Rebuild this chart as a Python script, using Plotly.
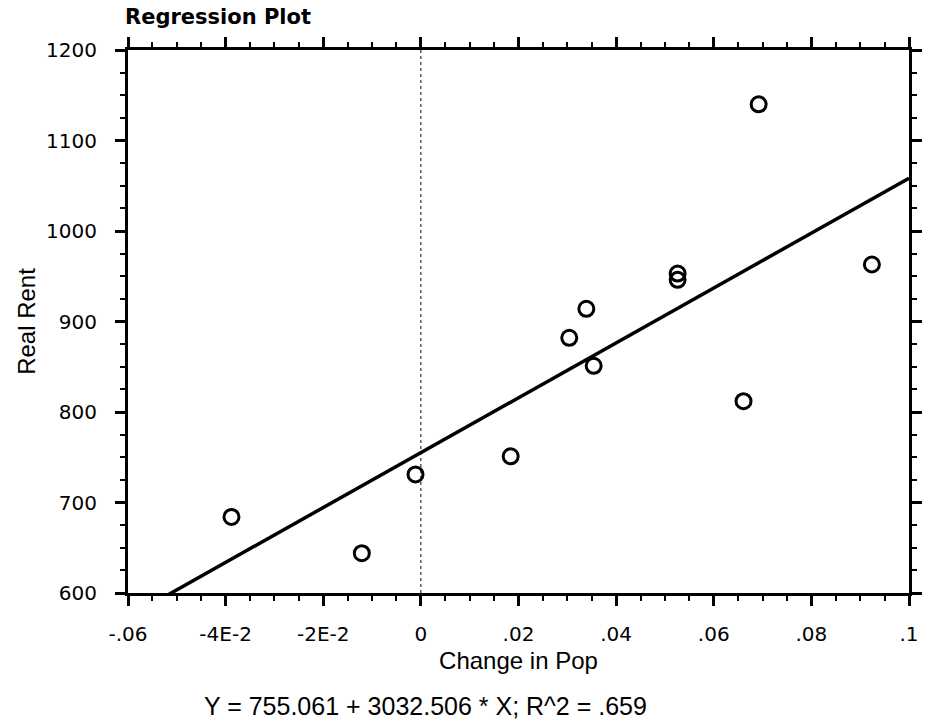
import plotly.graph_objects as go

# ---- data ----
change_in_pop = [-0.0388, -0.0121, -0.0011, 0.0184, 0.0304, 0.0339,
                 0.0354, 0.0526, 0.0526, 0.0692, 0.0661, 0.0924]
real_rent = [684, 644, 731, 751, 882, 914, 851, 953, 946, 1140, 812, 963]

intercept = 755.061
slope = 3032.506
r_squared_text = ".659"

x_range = [-0.06, 0.1]
y_range = [600, 1200]
x_tickvals = [-0.06, -0.04, -0.02, 0, 0.02, 0.04, 0.06, 0.08, 0.1]
x_ticktext = ["-.06", "-4E-2", "-2E-2", "0", ".02", ".04", ".06", ".08", ".1"]
y_tickvals = [600, 700, 800, 900, 1000, 1100, 1200]
y_ticktext = ["600", "700", "800", "900", "1000", "1100", "1200"]

# regression line evaluated at the axis ends (clipped by the plot area)
fit_x = list(x_range)
fit_y = [intercept + slope * v for v in fit_x]

W, H = 934, 723
ML, MR, MT, MB = 128, 14, 50, 130

fig = go.Figure()
fig.add_trace(go.Scatter(
    x=fit_x, y=fit_y, mode="lines",
    line=dict(color="black", width=3.5),
    showlegend=False, hoverinfo="skip"))
fig.add_trace(go.Scatter(
    x=change_in_pop, y=real_rent, mode="markers",
    marker=dict(symbol="circle-open", size=15, color="black",
                line=dict(color="black", width=3)),
    showlegend=False))

# dotted vertical reference line at x = 0
fig.add_shape(type="line", xref="x", yref="y", x0=0, x1=0,
              y0=y_range[0], y1=y_range[1],
              line=dict(color="black", width=1, dash="dot"), layer="below")

tick_font = dict(family="DejaVu Sans", size=20, color="black")
title_font = dict(family="Liberation Sans, Arial", size=24, color="black")

fig.update_xaxes(
    range=x_range, tickvals=x_tickvals, ticktext=x_ticktext,
    showgrid=False, zeroline=False,
    showline=True, linecolor="black", linewidth=3, mirror="ticks",
    ticks="outside", ticklen=10, tickwidth=2.5, tickcolor="black",
    minor=dict(dtick=0.005, ticks="outside", ticklen=5, tickwidth=2,
               tickcolor="black", showgrid=False),
    tickfont=tick_font, ticklabelstandoff=11,
    title=dict(text="Change in Pop", font=title_font, standoff=8))
fig.update_yaxes(
    range=y_range, tickvals=y_tickvals, ticktext=y_ticktext,
    showgrid=False, zeroline=False,
    showline=True, linecolor="black", linewidth=3, mirror="ticks",
    ticks="outside", ticklen=10, tickwidth=2.5, tickcolor="black",
    minor=dict(dtick=25, ticks="outside", ticklen=5, tickwidth=2,
               tickcolor="black", showgrid=False),
    tickfont=tick_font, ticklabelstandoff=14,
    title=dict(text="Real Rent", font=title_font, standoff=4))

eq_text = f"Y = {intercept} + {slope} * X; R^2 = {r_squared_text}"
plot_w = W - ML - MR
plot_h = H - MT - MB
fig.add_annotation(
    text=eq_text, xref="paper", yref="paper",
    x=(430 - ML) / plot_w, y=(H - MB - 706) / plot_h,
    xanchor="center", yanchor="middle", showarrow=False,
    font=dict(family="Liberation Sans, Arial", size=25, color="black"))

fig.update_layout(
    width=W, height=H,
    margin=dict(l=ML, r=MR, t=MT, b=MB, pad=0),
    paper_bgcolor="white", plot_bgcolor="white",
    title=dict(text="<b>Regression Plot</b>", xref="container", yref="container",
               x=125 / W, y=1 - 17 / H, xanchor="left", yanchor="middle",
               font=dict(family="DejaVu Sans", size=21, color="black")),
)

fig.write_html("out.html")
